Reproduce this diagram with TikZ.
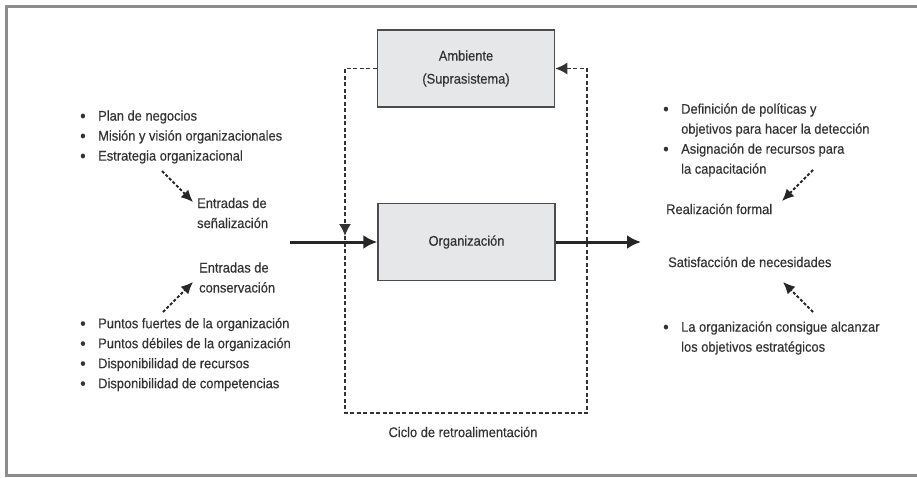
\documentclass[tikz,border=0pt]{standalone}
\usepackage{fontspec}
\setmainfont{Liberation Sans}[FakeStretch=0.92,FakeBold=0.4]
\usetikzlibrary{arrows.meta}
\definecolor{txtgray}{HTML}{333333}
\definecolor{boxgray}{HTML}{E6E7E8}
\newcommand{\bul}{\makebox[18pt][l]{\raisebox{-1pt}{\fontsize{17pt}{20pt}\selectfont\textbullet}}}
\newcommand{\ind}{\hspace*{18pt}}

\begin{document}
\begin{tikzpicture}[x=1pt,y=-1pt,every node/.style={font=\fontsize{14pt}{20pt}\selectfont,text=txtgray}]
    \tikzstyle{sbox}=[draw=black!70, fill=boxgray, line width=1.5pt, minimum width=177pt, minimum height=77pt, align=center]
    \tikzstyle{txt}=[inner sep=0pt, anchor=west, align=left]
    \tikzstyle{marrs}=[line width=3pt, black!85, -{Latex[length=14pt,width=14pt]}]
    \tikzstyle{darrs}=[line width=1.8pt, black!85, dash pattern=on 3pt off 2pt, -{Latex[length=12pt,width=11pt]}]
    \tikzstyle{fbk}=[line width=1.7pt, black!80, dash pattern=on 4pt off 2.5pt]

    \useasboundingbox (0,0) rectangle (917,477);
    \draw[gray!90, line width=3pt] (917,6) -- (6,6) -- (6,475) -- (917,475);

    % boxes
    \node[sbox] (amb) at (466,68.5) {Ambiente\\[3pt](Suprasistema)};
    \node[sbox] (org) at (466.5,242) {Organización};

    % inputs
    \node[txt] (plan) at (80,137) {\bul Plan de negocios\\\bul Misión y visión organizacionales\\\bul Estrategia organizacional};
    \node[txt] (senal) at (197,213) {Entradas de\\señalización};
    \node[txt] (cons) at (199,277.5) {Entradas de\\conservación};
    \node[txt] (puntos) at (80,354.5) {\bul Puntos fuertes de la organización\\\bul Puntos débiles de la organización\\\bul Disponibilidad de recursos\\\bul Disponibilidad de competencias};

    % outputs
    \node[txt] (polit) at (663,140) {\bul Definición de políticas y\\\ind objetivos para hacer la detección\\\bul Asignación de recursos para\\\ind la capacitación};
    \node[txt] (real) at (666,209) {Realización formal};
    \node[txt] (satis) at (668,262) {Satisfacción de necesidades};
    \node[txt] (logro) at (663,338) {\bul La organización consigue alcanzar\\\ind los objetivos estratégicos};

    \node (ciclo) at (463,432) {Ciclo de retroalimentación};

    \coordinate (in) at (290,242);
    \coordinate (out) at (641,242);
    \coordinate (fbin) at (345,236);
    \coordinate (fbl) at (345,413);
    \coordinate (fbr) at (587,413);
    \coordinate (s1) at (162,171);
    \coordinate (e1) at (193,202);
    \coordinate (s2) at (163,312);
    \coordinate (e2) at (193,282);
    \coordinate (s3) at (813,170);
    \coordinate (e3) at (782,201);
    \coordinate (s4) at (813,312);
    \coordinate (e4) at (783,282);

    % feedback loop
    \draw[fbk, -{Latex[length=12pt,width=12pt]}] (amb.west) -| (fbin);
    \draw[fbk, -{Latex[length=12pt,width=12pt]}] (fbin) -- (fbl) -- (fbr) |- (amb.east);

    \draw[marrs] (in) -- (org.west);
    \draw[marrs] (org.east) -- (out);

    \draw[darrs] (s1) -- (e1);
    \draw[darrs] (s2) -- (e2);
    \draw[darrs] (s3) -- (e3);
    \draw[darrs] (s4) -- (e4);

\end{tikzpicture}
\end{document}
